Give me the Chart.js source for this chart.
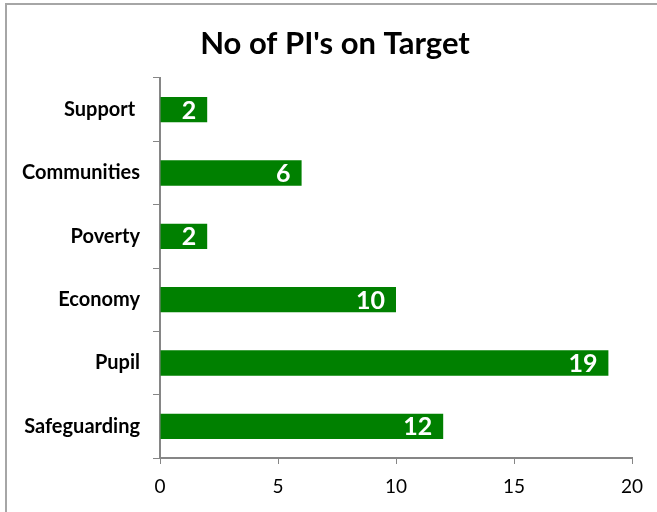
<!DOCTYPE html>
<html>
<head>
<meta charset="utf-8">
<script src="https://cdn.jsdelivr.net/npm/chart.js@4"></script>
<style>
  html, body { margin: 0; padding: 0; background: #fff; overflow: hidden; }
  #frame {
    position: absolute; left: 5px; top: 3px; width: 900px; height: 900px;
    border-top: 2px solid #a6a6a6; border-left: 2px solid #a6a6a6;
  }
  #wrap { position: absolute; left: 0; top: 0; width: 657px; height: 512px; }
</style>
</head>
<body>
<div id="frame"></div>
<div id="wrap"><canvas id="barChart" width="657" height="512"></canvas></div>
<script>
// Data
const categories = ["Support ", "Communities", "Poverty", "Economy", "Pupil", "Safeguarding"];
const onTarget = [2, 6, 2, 10, 19, 12];
const xMin = 0;
const xMax = 20;
const xStep = 5;
const chartTitle = "No of PI's on Target";

const fontFamily = "Lato, 'Open Sans', sans-serif";

// white value labels inside the end of each bar
const valueLabels = {
  id: "valueLabels",
  afterDatasetsDraw(chart) {
    const { ctx } = chart;
    const meta = chart.getDatasetMeta(0);
    ctx.save();
    ctx.font = "bold 25px " + fontFamily;
    ctx.fillStyle = "#ffffff";
    ctx.textAlign = "right";
    ctx.textBaseline = "middle";
    meta.data.forEach((bar, i) => {
      ctx.fillText(String(onTarget[i]), bar.x - 11, bar.y + 1);
    });
    ctx.restore();
  },
};

// title drawn by hand: it is not centred on the canvas in the picture
const titleText = {
  id: "titleText",
  afterDraw(chart) {
    const { ctx } = chart;
    ctx.save();
    ctx.font = "bold 31px " + fontFamily;
    ctx.fillStyle = "#000000";
    ctx.textAlign = "center";
    ctx.textBaseline = "middle";
    ctx.fillText(chartTitle, 335, 44);
    ctx.restore();
  },
};

const canvasElement = document.querySelector("#barChart");

const config = {
  type: "bar",
  data: {
    labels: categories,
    datasets: [
      {
        label: "On Target",
        data: onTarget,
        backgroundColor: "#008000",
        borderWidth: 0,
        categoryPercentage: 1,
        barPercentage: 0.4,
      },
    ],
  },
  options: {
    indexAxis: "y",
    responsive: false,
    animation: false,
    layout: { padding: { left: 0, right: 25, top: 78, bottom: 0 } },
    plugins: {
      legend: { display: false },
      tooltip: { enabled: false },
      title: { display: false },
    },
    scales: {
      x: {
        min: xMin,
        max: xMax,
        ticks: {
          stepSize: xStep,
          color: "#000000",
          font: { family: fontFamily, size: 19 },
          padding: 11,
        },
        grid: { drawOnChartArea: false, color: "#868686", tickLength: 6 },
        border: { color: "#868686", width: 2 },
        afterFit(scale) { scale.height = 54; },
      },
      y: {
        ticks: {
          color: "#000000",
          font: { family: fontFamily, size: 20, weight: "bold" },
          padding: 13,
        },
        grid: { drawOnChartArea: false, color: "#868686", tickLength: 7 },
        border: { color: "#868686", width: 2 },
        afterFit(scale) { scale.width = 160; },
      },
    },
  },
  plugins: [valueLabels, titleText],
};

const barChart = new Chart(canvasElement, config);
</script>
</body>
</html>
